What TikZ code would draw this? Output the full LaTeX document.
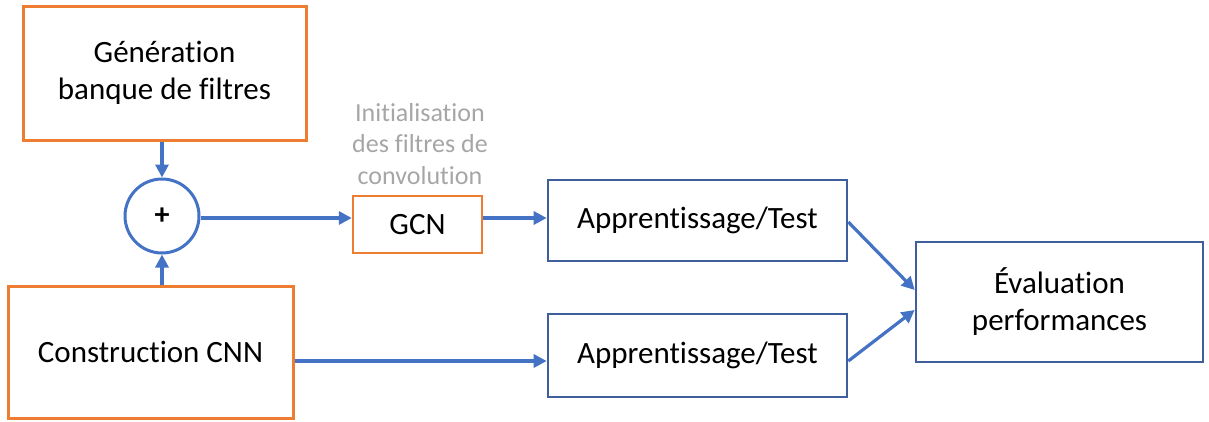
\documentclass[tikz,border=0pt]{standalone}
\usepackage{fontspec}
\setmainfont{Carlito}[Ligatures=NoCommon]
\usetikzlibrary{arrows.meta}
\definecolor{obox}{HTML}{ED7D31}
\definecolor{bbox}{HTML}{3F5F9C}
\definecolor{arr}{HTML}{4472C4}
\definecolor{lbl}{HTML}{A6A6A6}
\tikzset{
  orangebox/.style={draw=obox, line width=3pt, fill=white, inner sep=0pt, align=center, font=\fontsize{31}{37}\selectfont},
  bluebox/.style={draw=bbox, line width=2.6pt, fill=white, inner sep=0pt, align=center, font=\fontsize{31}{37}\selectfont},
  flow/.style={draw=arr, line width=3.2pt, -{Triangle[length=13pt,width=13pt]}},
}
\begin{document}
\begin{tikzpicture}[x=1pt,y=-1pt]
\useasboundingbox (0,0) rectangle (1209,421);
\node[orangebox, minimum width=283pt, minimum height=134pt] (gen) at (164.5,73) {Génération\\banque de filtres};
\node[draw=arr, line width=3pt, fill=white, circle, minimum size=74pt, inner sep=0pt, font=\fontsize{30}{30}\bfseries] (plus) at (162,216) {+};
\node[orangebox, minimum width=285pt, minimum height=132pt] (cnn) at (150.5,352) {Construction CNN};
\node[orangebox, line width=2.4pt, minimum width=129pt, minimum height=57pt] (gcn) at (417.5,224.5) {GCN};
\node[text=lbl, align=center, font=\fontsize{26}{31.5}\selectfont] (lab) at (420,144) {Initialisation\\des filtres de\\convolution};
\node[bluebox, minimum width=299pt, minimum height=81pt] (app1) at (697.5,220.5) {Apprentissage/Test};
\node[bluebox, minimum width=299pt, minimum height=83pt] (app2) at (697.5,355.5) {Apprentissage/Test};
\node[bluebox, minimum width=287pt, minimum height=120pt] (eval) at (1059.5,302) {Évaluation\\performances};
\coordinate (r1) at (0,218);
\coordinate (r2) at (0,361);
\draw[flow] (plus|-gen.south) -- (plus.north);
\draw[flow] (plus|-cnn.north) -- (plus.south);
\draw[flow] (plus.east|-r1) -- (gcn.west|-r1);
\draw[flow] (gcn.east|-r1) -- (app1.west|-r1);
\draw[flow] (cnn.east|-r2) -- (app2.west|-r2);
\draw[flow] ([yshift=-1.5pt]app1.east) -- ([yshift=12pt]eval.west);
\draw[flow] ([yshift=-5.5pt]app2.east) -- ([yshift=-8pt]eval.west);
\end{tikzpicture}
\end{document}
